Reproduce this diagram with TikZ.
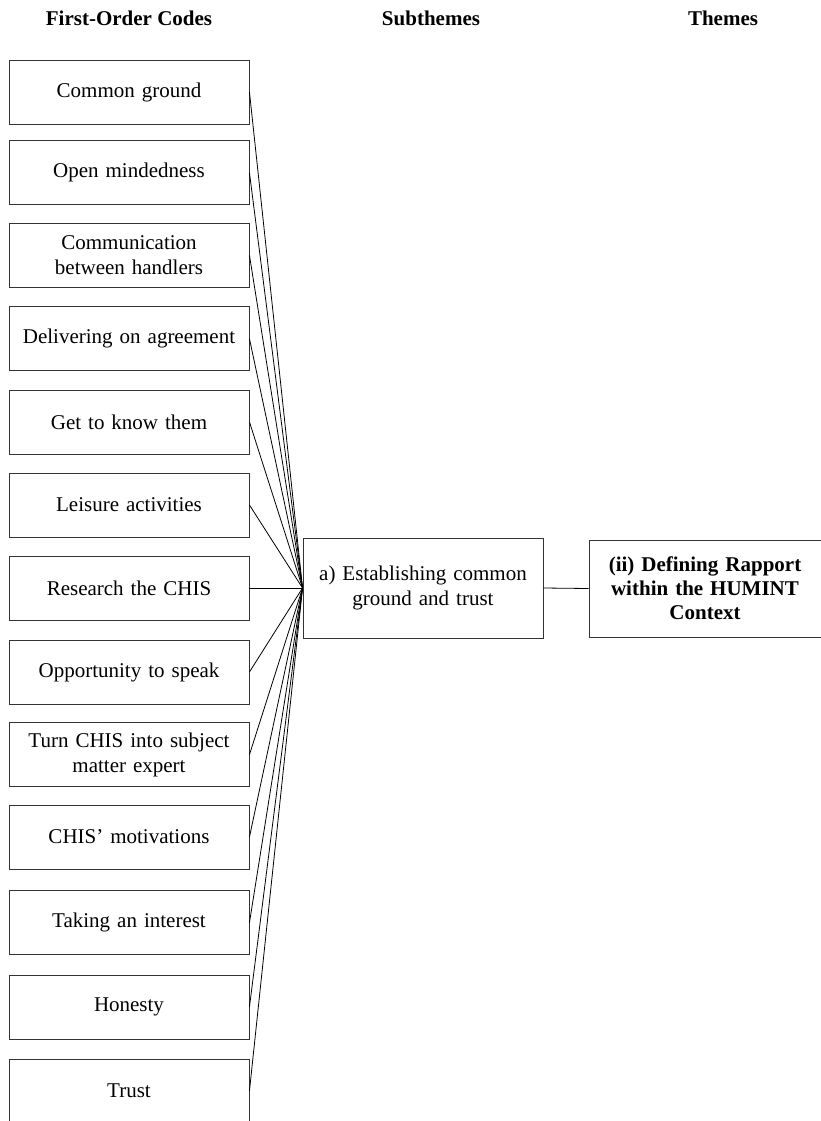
\documentclass[tikz,border=0pt]{standalone}
\usepackage{fontspec}
\setmainfont{Liberation Serif}
\begin{document}
\begin{tikzpicture}[x=1pt,y=-1pt,
  codebox/.style={draw=black!80, line width=0.9pt, minimum width=240pt, minimum height=64pt,
    align=center, inner sep=0pt, text width=236pt, font=\fontsize{21}{25}\selectfont},
  subbox/.style={draw=black!80, line width=0.9pt, minimum width=240pt, minimum height=100pt,
    align=center, inner sep=0pt, text width=236pt, font=\fontsize{21}{25}\selectfont},
  themebox/.style={draw=black!80, line width=0.9pt, minimum width=232pt, minimum height=97pt,
    align=center, inner sep=0pt, text width=228pt, font=\bfseries\fontsize{21}{24}\selectfont},
  header/.style={anchor=base, inner sep=0pt, font=\bfseries\fontsize{21}{25}\selectfont},
  conn/.style={draw=black, line width=0.8pt}]
\useasboundingbox (0,0) rectangle (820,1121);

\node[header] (h1) at (129,26) {First-Order Codes};
\node[header] (h2) at (431,26) {Subthemes};
\node[header] (h3) at (723,26) {Themes};

\node[codebox] (c1) at (129,92) {Common ground};
\node[codebox] (c2) at (129,172.7) {Open mindedness};
\node[codebox] (c3) at (129,255.3) {Communication\\between handlers};
\node[codebox] (c4) at (129,338.7) {Delivering on agreement};
\node[codebox] (c5) at (129,422) {Get to know them};
\node[codebox] (c6) at (129,505) {Leisure activities};
\node[codebox] (c7) at (129,588) {Research the CHIS};
\node[codebox] (c8) at (129,672) {Opportunity to speak};
\node[codebox] (c9) at (129,754.7) {Turn CHIS into subject\\matter expert};
\node[codebox] (c10) at (129,837) {CHIS’ motivations};
\node[codebox] (c11) at (129,922.7) {Taking an interest};
\node[codebox] (c12) at (129,1007) {Honesty};
\node[codebox] (c13) at (129,1091) {Trust};

\node[subbox] (mid) at (423,588) {a) Establishing common\\ground and trust};
\node[themebox] (theme) at (705,588.5) {(ii) Defining Rapport\\within the HUMINT\\Context};

\foreach \i in {1,...,13} {
  \draw[conn] (c\i.east) -- (mid.west);
}
\draw[conn] (mid.east) -- (theme.west);
\end{tikzpicture}
\end{document}
